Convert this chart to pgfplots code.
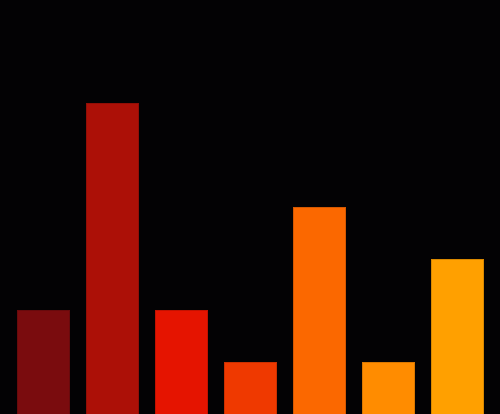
\documentclass[border=0pt]{standalone}
\usepackage{pgfplots}
\pgfplotsset{compat=1.18}
\definecolor{bg}{HTML}{030204}
\definecolor{c1}{HTML}{7A0C0E}
\definecolor{c2}{HTML}{AC1007}
\definecolor{c3}{HTML}{E51400}
\definecolor{c4}{HTML}{EF3900}
\definecolor{c5}{HTML}{FB6800}
\definecolor{c6}{HTML}{FF8C00}
\definecolor{c7}{HTML}{FFA000}
\begin{document}
\begin{tikzpicture}
  \begin{axis}[scale only axis,
      width=500pt, height=414pt,
      xmin=0.377, xmax=7.623,
      ymin=0, ymax=8,
      axis lines=none, ticks=none,
      axis background/.style={fill=bg},
      ybar, bar width=52pt, bar shift=0pt,
  ]
  % one bar per category
  \addplot[fill=c1, draw=c1!85!black] coordinates {(1,2)};
  \addplot[fill=c2, draw=c2!85!black] coordinates {(2,6)};
  \addplot[fill=c3, draw=c3!85!black] coordinates {(3,2)};
  \addplot[fill=c4, draw=c4!85!black] coordinates {(4,1)};
  \addplot[fill=c5, draw=c5!85!black] coordinates {(5,4)};
  \addplot[fill=c6, draw=c6!85!black] coordinates {(6,1)};
  \addplot[fill=c7, draw=c7!85!black] coordinates {(7,3)};
  \end{axis}
\end{tikzpicture}
\end{document}
